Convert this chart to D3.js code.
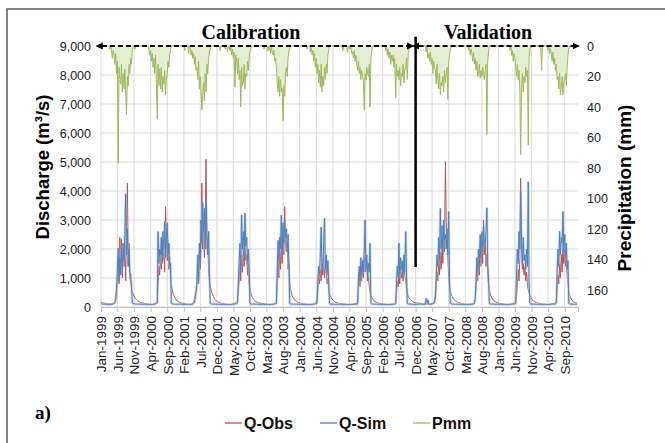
<!DOCTYPE html>
<html>
<head>
<meta charset="utf-8">
<script src="https://cdn.jsdelivr.net/npm/d3@7"></script>
<style>
  body { margin:0; background:#fff; }
  svg { display:block; }
</style>
</head>
<body>
<div class="div1"></div>
<script>
// weekly samples (days 1, 8, 16, 23 of each month), one line per year 1999..2010
const years = [1999,2000,2001,2002,2003,2004,2005,2006,2007,2008,2009,2010];
const sampleDays = [1,8,16,23];

const qObs = [
  160,150,145,140, 135,130,125,120, 118,115,112,110, 108,105,110,120, 130,150,220,450, 900,1600,800,2400, 1200,2350,1000,1800, 1400,2100,900,2700, 4270,1500,2200,1000, 900,620,520,450, 380,320,280,250, 220,200,185,170,
  160,150,140,130, 125,120,115,110, 105,100,100,95, 95,95,90,95, 100,110,120,140, 160,700,1400,1100, 1900,1300,2300,1600, 2000,1200,3460,2500, 1600,2200,1300,1700, 1100,800,600,480, 400,330,280,240, 210,190,175,160,
  150,140,130,125, 120,115,110,105, 100,100,95,95, 95,100,110,130, 160,250,420,600, 900,1400,800,1900, 1300,2000,4270,2000, 2800,1700,3000,5100, 2000,2400,1200,900, 750,600,500,420, 360,300,260,230, 200,180,165,150,
  145,135,125,120, 115,110,105,100, 100,95,95,90, 90,90,95,100, 110,120,140,160, 180,220,500,900, 1500,900,1800,1200, 2000,1400,2200,1600, 1800,1100,1500,800, 650,500,400,330, 280,240,210,190, 175,160,150,140,
  135,130,125,120, 115,110,105,100, 100,95,95,90, 90,90,95,100, 105,110,120,140, 170,900,1600,1000, 2100,1300,2400,1500, 2600,1800,3460,2200, 1900,2200,1300,1600, 900,650,500,400, 330,280,240,210, 190,170,155,145,
  140,130,125,120, 115,110,105,100, 100,95,95,90, 90,90,95,100, 100,105,110,120, 140,300,700,1100, 800,1300,900,1500, 1100,1700,1000,1400, 1200,800,1000,600, 450,380,320,280, 240,210,190,170, 160,150,140,130,
  125,120,115,110, 105,100,100,95, 95,90,90,90, 85,85,90,90, 90,95,100,105, 110,120,140,600, 1100,700,1400,900, 1500,1000,1700,1200, 1300,1600,900,1100, 700,500,400,330, 280,240,210,190, 170,155,145,135,
  125,120,115,110, 105,100,100,95, 95,90,90,90, 85,85,90,90, 90,95,100,105, 120,500,900,700, 1200,800,1400,1000, 1300,900,1500,1100, 900,700,480,380, 320,280,250,220, 200,180,165,155, 145,140,135,130,
  130,125,120,115, 110,105,100,100, 95,95,100,100, 95,95,100,105, 110,120,130,150, 300,700,1200,900, 1600,1100,1900,1300, 2200,1500,2600,1900, 5000,2900,2300,1700, 1000,750,560,450, 370,310,270,240, 210,190,175,160,
  150,140,130,125, 120,115,110,105, 100,100,95,95, 95,95,95,100, 105,110,120,140, 250,700,1300,900, 1600,1100,2000,1400, 2200,1500,3000,1800, 2400,1400,1800,1100, 800,600,470,380, 310,260,230,200, 180,165,150,140,
  135,130,125,120, 115,110,105,100, 100,95,95,90, 90,90,95,100, 105,110,120,130, 140,160,400,800, 1300,900,1700,4440, 1900,1300,1500,1100, 1400,900,1200,800, 600,480,400,330, 280,240,210,190, 175,160,150,140,
  135,130,125,120, 115,110,105,100, 100,95,95,90, 90,90,95,100, 100,105,110,120, 130,150,200,600, 1100,800,1500,1000, 1800,1200,2200,1500, 2000,1400,1700,1100, 800,550,420,340, 270,230,200,180, 165,155,145,140
];

const qSim = [
  110,105,100,100, 95,95,90,90, 90,88,88,85, 85,90,95,110, 120,140,300,600, 1300,2030,900,1700, 1100,2000,1300,2200, 1600,2500,3900,1800, 2700,1400,2000,1200, 1100,700,140,120, 110,105,100,100, 100,100,95,95,
  95,95,90,90, 90,88,88,85, 85,85,85,85, 85,85,88,90, 95,100,110,130, 150,2600,1500,2000, 1800,2400,1500,2600, 2000,2940,1700,2300, 2900,1800,2200,1400, 1500,130,110,100, 100,100,95,95, 95,95,95,95,
  95,95,90,90, 90,88,88,85, 85,85,85,85, 85,88,95,110, 120,160,300,500, 800,1800,900,2200, 1500,3000,2200,3600, 2600,3400,2000,3700, 2400,1800,2600,1200, 130,110,100,100, 100,95,95,95, 95,95,90,90,
  90,90,90,88, 88,85,85,85, 85,85,85,85, 85,85,88,90, 95,100,105,110, 110,150,900,1500, 2200,1200,3170,2000, 2600,1700,3230,2100, 2400,1500,2000,1300, 120,105,100,100, 100,95,95,95, 95,95,90,90,
  90,90,90,88, 88,85,85,85, 85,85,85,85, 85,85,88,90, 95,100,105,110, 120,1200,2300,1600, 2400,2000,3170,1800, 2900,2200,3000,2400, 2700,1900,2500,1500, 130,110,100,100, 100,95,95,95, 95,95,90,90,
  90,90,90,88, 88,85,85,85, 85,85,85,85, 85,85,88,90, 95,100,105,110, 110,130,900,1400, 1100,1800,2760,1300, 1500,2200,3070,1300, 1800,1100,1600,900, 120,100,95,95, 95,95,90,90, 90,90,90,90,
  90,90,88,88, 85,85,85,85, 85,85,85,85, 85,85,88,90, 90,95,95,100, 100,100,110,900, 1400,900,1700,1100, 1600,1200,1900,3000, 1300,1800,1000,1500, 1200,2200,130,105, 100,95,95,95, 95,95,90,90,
  90,90,88,88, 85,85,85,85, 85,85,85,85, 85,85,88,90, 90,95,95,100, 110,800,1400,1000, 2200,1100,1700,1300, 1600,1000,1800,1200, 2600,1100,130,110, 100,100,95,95, 95,95,90,90, 90,90,90,90,
  100,100,95,95, 95,90,90,95, 150,300,120,250, 110,100,100,100, 110,120,140,180, 400,1000,1800,1400, 2400,1600,3400,2000, 2800,1900,3000,2300, 2500,2000,2700,1800, 3290,900,130,110, 100,100,95,95, 95,95,90,90,
  90,90,90,88, 88,85,85,85, 85,85,85,85, 85,85,88,90, 95,100,105,120, 300,900,1700,1200, 2000,1400,2500,1700, 2600,1900,2800,2100, 2200,2600,3420,1500, 1000,130,110,100, 100,95,95,95, 95,95,90,90,
  90,90,90,88, 88,85,85,85, 85,85,85,85, 85,85,88,90, 95,100,105,110, 110,120,1300,2000, 1500,2600,2000,3980, 2200,1500,2400,1600, 1800,1300,2000,1400, 4320,900,130,105, 100,95,95,95, 95,95,90,90,
  90,90,90,88, 88,85,85,85, 85,85,85,85, 85,85,88,90, 95,100,100,105, 100,110,130,1200, 2000,1400,2600,1800, 2400,2200,3290,1900, 2500,1700,2200,1300, 1600,130,110,100, 100,95,95,95, 95,95,90,90
];

const pmm = [
  0,0,0,0, 0,0,0,0, 0,0,0,2, 0,4,8,3, 6,12,5,18, 10,77,14,22, 25,12,30,18, 28,15,32,45, 20,26,12,18, 8,12,3,0, 0,2,0,0, 0,0,0,0,
  0,0,0,0, 0,0,0,0, 0,0,2,6, 3,10,5,14, 8,18,6,22, 48,12,26,15, 28,14,30,20, 25,16,32,22, 18,10,14,6, 3,0,0,0, 0,0,0,0, 0,0,0,0,
  0,0,0,0, 0,3,0,0, 0,0,5,0, 2,6,3,8, 5,12,7,16, 14,22,10,28, 20,30,42,32, 24,36,18,30, 12,18,8,4, 2,0,0,0, 0,0,0,0, 0,0,0,0,
  3,0,0,0, 0,0,2,0, 0,4,0,0, 3,0,6,2, 8,4,27,6, 10,18,8,22, 16,40,14,26, 24,12,28,18, 20,10,16,8, 4,2,0,0, 0,0,0,0, 0,0,0,0,
  0,0,0,0, 0,2,0,0, 0,0,3,0, 2,5,0,4, 6,3,10,8, 14,24,30,20, 33,22,30,28, 49,26,33,18, 14,20,8,4, 2,0,0,0, 0,0,0,0, 0,0,0,0,
  0,0,0,0, 0,0,0,0, 0,2,0,0, 0,4,0,6, 3,10,5,14, 8,18,12,24, 16,27,12,30, 20,26,14,22, 12,18,6,3, 0,0,0,0, 0,0,0,0, 0,0,0,0,
  0,0,0,0, 3,0,0,0, 0,0,4,0, 0,2,0,5, 4,8,3,10, 6,12,16,10, 18,14,22,16, 20,23,42,18, 22,14,18,20, 12,40,8,4, 0,0,0,0, 0,0,0,0,
  0,0,0,0, 0,0,0,0, 3,0,6,2, 8,4,12,6, 10,6,14,8, 34,12,20,16, 22,14,26,18, 20,12,24,16, 14,8,22,6, 2,0,0,0, 0,0,0,0, 0,0,0,0,
  0,0,0,0, 0,0,0,0, 0,4,0,8, 5,10,4,12, 8,18,10,14, 16,25,12,22, 28,18,32,24, 26,20,30,16, 24,18,14,35, 10,6,3,0, 0,0,0,0, 0,0,0,0,
  0,0,0,0, 0,0,0,0, 0,0,0,0, 3,0,6,2, 5,10,4,12, 8,16,10,20, 18,12,21,16, 20,14,18,22, 16,12,58,10, 4,0,0,0, 0,0,0,0, 0,0,0,0,
  0,0,0,0, 0,0,0,0, 0,0,0,0, 0,0,3,0, 6,3,10,5, 8,14,20,12, 22,16,30,71, 26,18,30,20, 24,14,20,16, 65,8,2,0, 0,0,0,0, 0,0,0,0,
  0,0,0,0, 16,0,0,0, 0,0,0,0, 3,0,5,2, 6,10,4,12, 8,16,12,22, 20,28,18,32, 26,20,32,24, 22,18,26,14, 6,2,0,0, 0,0,0,0, 0,0,0,0
];

const qTicks = [0,1000,2000,3000,4000,5000,6000,7000,8000,9000];
const pTicks = [0,20,40,60,80,100,120,140,160];
const periodStart = new Date(1999,0,1), splitDate = new Date(2006,11,1), periodEnd = new Date(2011,0,1);

const dates = qObs.map((d,i)=>new Date(years[0]+Math.floor(i/48), Math.floor((i%48)/4), sampleDays[i%4]));
const dataset = dates.map((d,i)=>({date:d, obs:qObs[i], sim:qSim[i], p:pmm[i]}));

const sans="'Liberation Sans', Arial, sans-serif";
const serif="'Liberation Serif', 'Times New Roman', serif";

let margin={top:46,left:101};
let width=477, height=261;

const svg=d3.select(".div1").append("svg")
  .attr("width",665).attr("height",443);

// outer frame (right/bottom edges are cut off in the picture)
svg.append("rect").attr("x",7).attr("y",9).attr("width",700).attr("height",500)
  .attr("fill","none").attr("stroke","#595959").attr("stroke-width",1.5);

let g=svg.append("g").attr("transform","translate("+margin.left+","+margin.top+")");

let x=d3.scaleTime().domain([periodStart,periodEnd]).range([0,width]);
let y=d3.scaleLinear().domain([0,9000]).range([height,0]);
let yp=d3.scaleLinear().domain([0,171]).range([0,height]);

const xTicks=d3.range(29).map(i=>new Date(1999,i*5,1));

// grid
g.selectAll(null).data(qTicks).enter().append("line")
  .attr("x1",0).attr("x2",width).attr("y1",d=>y(d)).attr("y2",d=>y(d))
  .attr("stroke","#d9d9d9").attr("stroke-width",1);
g.selectAll(null).data(xTicks).enter().append("line")
  .attr("x1",d=>x(d)).attr("x2",d=>x(d)).attr("y1",0).attr("y2",height)
  .attr("stroke","#d9d9d9").attr("stroke-width",1);

// axes
let bottomAxis=d3.axisBottom(x).tickValues(xTicks).tickSize(5).tickFormat(d3.timeFormat("%b-%Y"));
let xa=g.append("g").attr("transform","translate(0,"+height+")").call(bottomAxis);
xa.select(".domain").attr("stroke","#bfbfbf");
xa.selectAll(".tick line").attr("stroke","#bfbfbf");
xa.selectAll("text")
  .attr("transform","rotate(-90)")
  .attr("x",-9).attr("y",0).attr("dy","0.36em")
  .attr("text-anchor","end")
  .attr("font-size","13.5px").attr("fill","#222")
  .style("font-family",sans);

let leftAxis=d3.axisLeft(y).tickValues(qTicks).tickSize(0).tickPadding(10).tickFormat(d3.format(","));
let la=g.append("g").call(leftAxis);
la.select(".domain").remove();
la.selectAll("text").attr("font-size","12.5px").attr("fill","#222").style("font-family",sans);

let rightAxis=d3.axisRight(yp).tickValues(pTicks).tickSize(0).tickPadding(9);
let ra=g.append("g").attr("transform","translate("+width+",0)").call(rightAxis);
ra.select(".domain").remove();
ra.selectAll("text").attr("font-size","12.5px").attr("fill","#222").style("font-family",sans);

// precipitation (hanging from the top)
g.append("path").datum(dataset)
  .attr("d",d3.area().x(d=>x(d.date)).y0(yp(0)).y1(d=>yp(d.p)))
  .attr("fill","#e3edd2");
g.append("path").datum(dataset)
  .attr("d",d3.line().x(d=>x(d.date)).y(d=>yp(d.p)))
  .attr("fill","none").attr("stroke","#9bbb59").attr("stroke-width",1);

// discharge
g.append("path").datum(dataset)
  .attr("d",d3.line().x(d=>x(d.date)).y(d=>y(d.obs)))
  .attr("fill","none").attr("stroke","#c0504d").attr("stroke-width",1);
g.append("path").datum(dataset)
  .attr("d",d3.line().x(d=>x(d.date)).y(d=>y(d.sim)))
  .attr("fill","none").attr("stroke","#a7c1e3").attr("stroke-width",2.6).attr("stroke-opacity",0.6);
g.append("path").datum(dataset)
  .attr("d",d3.line().x(d=>x(d.date)).y(d=>y(d.sim)))
  .attr("fill","none").attr("stroke","#4f81bd").attr("stroke-width",1);

// calibration / validation markers
const defs=svg.append("defs");
["start","end"].forEach(k=>{
  defs.append("marker").attr("id","arr-"+k)
    .attr("viewBox","0 0 10 10").attr("refX",k=="end"?9:1).attr("refY",5)
    .attr("markerWidth",3.6).attr("markerHeight",3.6).attr("orient","auto-start-reverse")
    .append("path").attr("d","M0,0L10,5L0,10z").attr("fill","#000");
});
[[periodStart,splitDate,1,-2],[splitDate,periodEnd,3,1]].forEach(p=>{
  g.append("line")
    .attr("x1",x(p[0])+p[2]).attr("x2",x(p[1])+p[3]).attr("y1",y(9000)).attr("y2",y(9000))
    .attr("stroke","#000").attr("stroke-width",2).attr("stroke-dasharray","5,3")
    .attr("marker-start","url(#arr-start)").attr("marker-end","url(#arr-end)");
});
g.append("line")
  .attr("x1",x(splitDate)).attr("x2",x(splitDate)).attr("y1",y(9320)).attr("y2",y(1380))
  .attr("stroke","#000").attr("stroke-width",2.5);

svg.append("text").attr("x",251).attr("y",39).attr("text-anchor","middle")
  .style("font-family",serif).attr("font-weight","bold")
  .attr("font-size","20px").text("Calibration");
svg.append("text").attr("x",488).attr("y",39).attr("text-anchor","middle")
  .style("font-family",serif).attr("font-weight","bold")
  .attr("font-size","20px").text("Validation");

// axis titles
svg.append("text").attr("transform","translate(49,167) rotate(-90)")
  .attr("text-anchor","middle").attr("font-weight","bold").attr("font-size","18.5px")
  .style("font-family",sans).text("Discharge (m³/s)");
svg.append("text").attr("transform","translate(631,188) rotate(-90)")
  .attr("text-anchor","middle").attr("font-weight","bold").attr("font-size","19px")
  .style("font-family",sans).text("Precipitation (mm)");

svg.append("text").attr("x",35).attr("y",419)
  .style("font-family",serif).attr("font-weight","bold")
  .attr("font-size","19px").text("a)");

// legend
const legendItems=[
  {name:"Q-Obs",color:"#c0504d",x:225},
  {name:"Q-Sim",color:"#4f81bd",x:320},
  {name:"Pmm",color:"#9bbb59",x:413}
];
let lg=svg.selectAll(null).data(legendItems).enter().append("g")
  .attr("transform",d=>"translate("+d.x+",423)");
lg.append("line").attr("x1",0).attr("x2",17).attr("y1",0).attr("y2",0)
  .attr("stroke",d=>d.color).attr("stroke-width",1.3);
lg.append("text").attr("x",19).attr("y",6).attr("font-weight","bold").attr("font-size","16px")
  .style("font-family",sans).attr("fill","#111").text(d=>d.name);
</script>
</body>
</html>
